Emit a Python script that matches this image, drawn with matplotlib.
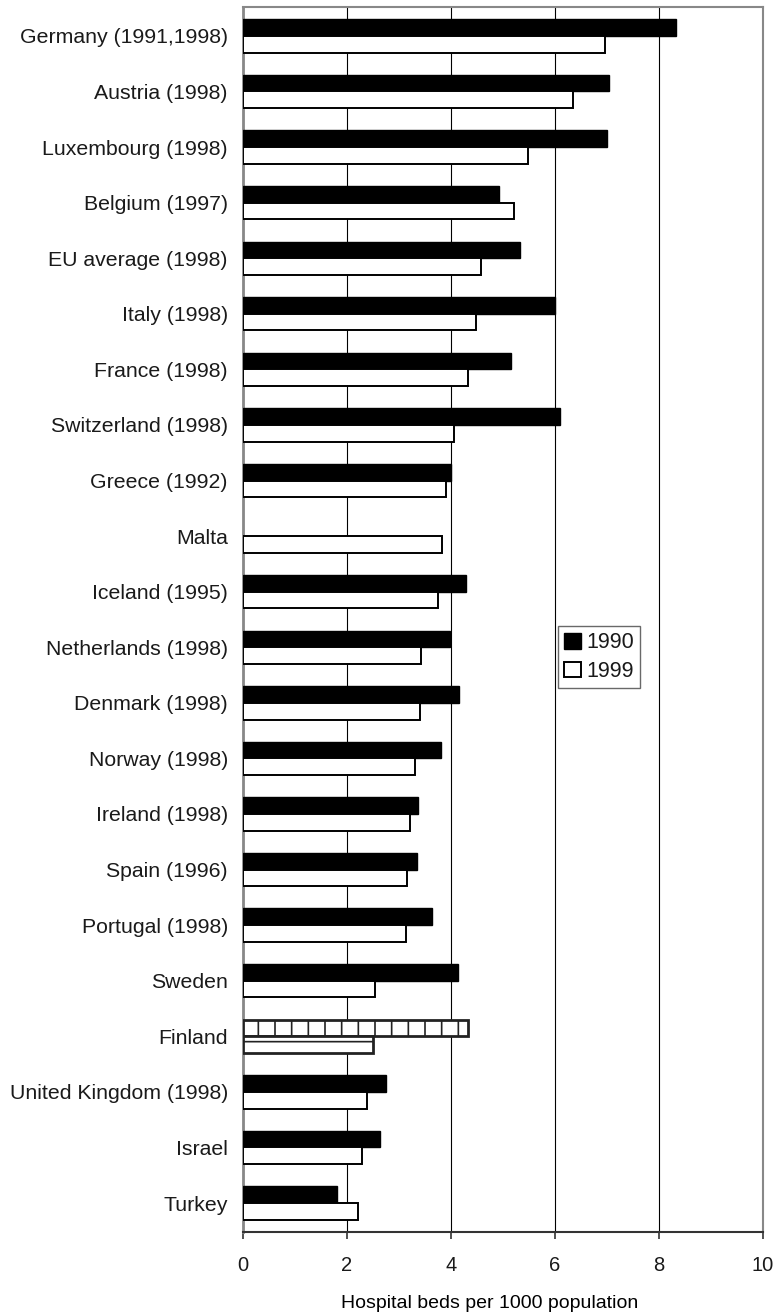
import numpy as np
import matplotlib.pyplot as plt

plt.rcParams['font.family'] = ['Liberation Sans', 'DejaVu Sans']
plt.rcParams['hatch.linewidth'] = 1.2
plt.rcParams['text.color'] = '#1a1a1a'
plt.rcParams['xtick.labelcolor'] = '#1a1a1a'
plt.rcParams['ytick.labelcolor'] = '#1a1a1a'

# Hospital beds per 1000 population
countries = ['Germany (1991,1998)', 'Austria (1998)', 'Luxembourg (1998)',
             'Belgium (1997)', 'EU average (1998)', 'Italy (1998)',
             'France (1998)', 'Switzerland (1998)', 'Greece (1992)', 'Malta',
             'Iceland (1995)', 'Netherlands (1998)', 'Denmark (1998)',
             'Norway (1998)', 'Ireland (1998)', 'Spain (1996)',
             'Portugal (1998)', 'Sweden', 'Finland', 'United Kingdom (1998)',
             'Israel', 'Turkey']
beds_1990 = [8.33, 7.04, 7.01, 4.92, 5.32, 6.00, 5.16, 6.09, 4.00, np.nan,
             4.28, 3.99, 4.16, 3.80, 3.37, 3.35, 3.64, 4.14, 4.33, 2.76,
             2.64, 1.80]
beds_1999 = [6.96, 6.35, 5.48, 5.22, 4.57, 4.49, 4.32, 4.05, 3.91, 3.82,
             3.76, 3.43, 3.41, 3.30, 3.22, 3.16, 3.14, 2.53, 2.51, 2.39,
             2.29, 2.22]
xticks = [0, 2, 4, 6, 8, 10]

fig = plt.figure(figsize=(7.81, 13.12), dpi=100)
ax = fig.add_axes([0.3111, 0.061, 0.6658, 0.9337])

y = np.arange(len(countries))
h = 0.3
b90 = ax.barh(y - h / 2, beds_1990, height=h, color='black',
              edgecolor='black', linewidth=1.0, label='1990', zorder=3)
b99 = ax.barh(y + h / 2, beds_1999, height=h, color='white',
              edgecolor='black', linewidth=1.4, label='1999', zorder=3)

# Finland is drawn with patterned bars
fin = countries.index('Finland')
b90[fin].set_facecolor('white')
b90[fin].set_hatch('|')
b90[fin].set_linewidth(2.0)
b90[fin].set_edgecolor('#222222')
b99[fin].set_hatch('-')
b99[fin].set_linewidth(2.0)
b99[fin].set_edgecolor('#222222')

ax.set_xlim(0, 10)
ax.set_ylim(len(countries) - 0.48, -0.52)
ax.set_xticks(xticks)
ax.set_yticks(y)
ax.set_yticklabels(countries, fontsize=15.3)
ax.tick_params(axis='y', length=0, pad=10.8)
ax.tick_params(axis='x', labelsize=14.5, length=5, width=1.2, pad=12,
               direction='out', color='#333333')
ax.set_xlabel('Hospital beds per 1000 population', fontsize=14, labelpad=15)
ax.xaxis.label.set_x(0.475)

ax.xaxis.grid(True, color='black', linewidth=0.8, zorder=0)
ax.set_axisbelow(True)
for side in ['top', 'right']:
    ax.spines[side].set_color('#888888')
    ax.spines[side].set_linewidth(1.5)
ax.spines['left'].set_color('#888888')
ax.spines['left'].set_linewidth(2.0)
ax.spines['bottom'].set_color('#333333')
ax.spines['bottom'].set_linewidth(1.5)

leg = ax.legend(loc='upper left', bbox_to_anchor=(558 / 781, 1 - 626 / 1312),
                bbox_transform=fig.transFigure, fontsize=15.5, frameon=True,
                fancybox=False, borderaxespad=0, handlelength=0.75,
                handleheight=0.75, handletextpad=0.25, labelspacing=0.35,
                borderpad=0.3)
leg.get_frame().set_edgecolor('#444444')
leg.get_frame().set_linewidth(1.0)

fig.savefig('out.png', dpi=100)
